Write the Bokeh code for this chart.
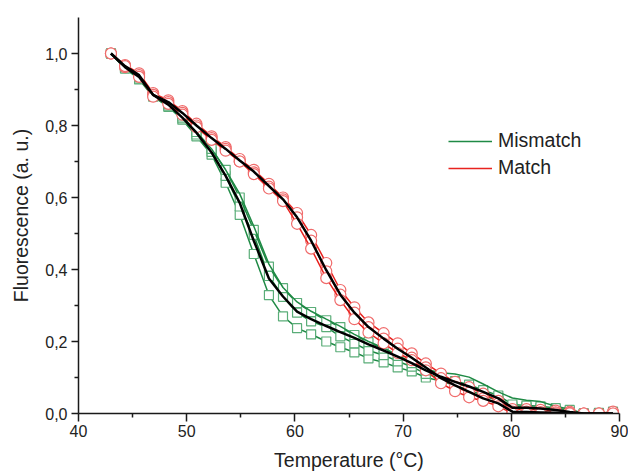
from bokeh.plotting import figure
from bokeh.models import FixedTicker, CustomJSTickFormatter, Legend, LegendItem, Range1d
from bokeh.embed import file_html
from bokeh.resources import INLINE

temperature = [43.0, 44.3, 45.6, 46.9, 48.3, 49.6, 50.9, 52.3, 53.6, 54.9, 56.2, 57.6,
               58.9, 60.2, 61.5, 62.9, 64.2, 65.5, 66.8, 68.2, 69.5, 70.8, 72.1, 73.5,
               74.8, 76.1, 77.4, 78.8, 80.1, 81.4, 82.7, 84.1, 85.4, 86.7, 88.1, 89.4]

match_rep1 = [1.0, 0.968, 0.945, 0.890, 0.870, 0.840, 0.805, 0.770, 0.740, 0.707, 0.677, 0.638,
              0.600, 0.557, 0.496, 0.418, 0.343, 0.295, 0.253, 0.223, 0.195, 0.167, 0.139, 0.111,
              0.088, 0.073, 0.055, 0.035, 0.012, 0.012, 0.010, 0.008, 0.005, 0.0, 0.0, 0.005]
match_rep2 = [1.0, 0.962, 0.940, 0.885, 0.865, 0.835, 0.800, 0.765, 0.735, 0.700, 0.670, 0.630,
              0.595, 0.545, 0.480, 0.395, 0.330, 0.280, 0.240, 0.208, 0.180, 0.155, 0.128, 0.098,
              0.075, 0.058, 0.042, 0.028, 0.005, 0.005, 0.004, 0.003, 0.002, 0.0, 0.0, 0.0]
match_rep3 = [1.0, 0.965, 0.935, 0.880, 0.860, 0.830, 0.795, 0.760, 0.730, 0.700, 0.665, 0.625,
              0.590, 0.527, 0.458, 0.376, 0.315, 0.262, 0.225, 0.195, 0.168, 0.148, 0.120, 0.084,
              0.062, 0.045, 0.035, 0.020, 0.0, 0.0, 0.0, 0.0, 0.0, 0.0, 0.0, 0.0]

mismatch_rep1 = [1.0, 0.960, 0.928, 0.880, 0.852, 0.816, 0.770, 0.719, 0.641, 0.552, 0.443, 0.329,
                 0.270, 0.237, 0.220, 0.200, 0.184, 0.170, 0.153, 0.142, 0.128, 0.117, 0.100, 0.090,
                 0.078, 0.065, 0.050, 0.035, 0.015, 0.015, 0.012, 0.008, 0.004, 0.0, 0.0, 0.0]
mismatch_rep2 = [1.0, 0.958, 0.930, 0.882, 0.855, 0.820, 0.775, 0.727, 0.660, 0.575, 0.496, 0.382,
                 0.324, 0.280, 0.256, 0.240, 0.214, 0.195, 0.175, 0.162, 0.145, 0.130, 0.110, 0.098,
                 0.085, 0.072, 0.058, 0.042, 0.020, 0.018, 0.016, 0.012, 0.006, 0.0, 0.002, 0.0]
mismatch_rep3 = [1.0, 0.962, 0.935, 0.885, 0.860, 0.825, 0.782, 0.735, 0.677, 0.600, 0.510, 0.408,
                 0.348, 0.307, 0.282, 0.259, 0.240, 0.218, 0.198, 0.180, 0.160, 0.140, 0.120, 0.105,
                 0.090, 0.080, 0.065, 0.050, 0.025, 0.022, 0.020, 0.015, 0.010, 0.0, 0.0, 0.005]
mismatch_rep4 = [1.0, 0.962, 0.935, 0.885, 0.860, 0.825, 0.782, 0.735, 0.677, 0.610, 0.520, 0.415,
                 0.350, 0.310, 0.284, 0.262, 0.242, 0.220, 0.200, 0.182, 0.162, 0.142, 0.122, 0.113,
                 0.110, 0.101, 0.082, 0.060, 0.043, 0.037, 0.033, 0.020, 0.012, 0.0, 0.0, 0.0]

match_mean = [1.0, 0.965, 0.940, 0.885, 0.865, 0.835, 0.800, 0.765, 0.735, 0.703, 0.672, 0.632,
              0.595, 0.545, 0.480, 0.398, 0.330, 0.280, 0.240, 0.208, 0.180, 0.155, 0.128, 0.098,
              0.078, 0.060, 0.042, 0.028, 0.005, 0.004, 0.003, 0.002, 0.001, 0.0, 0.0, 0.0]
mismatch_mean = [1.0, 0.962, 0.935, 0.885, 0.858, 0.822, 0.780, 0.725, 0.660, 0.585, 0.480, 0.375,
                 0.325, 0.283, 0.262, 0.243, 0.226, 0.210, 0.192, 0.175, 0.158, 0.140, 0.120, 0.102,
                 0.088, 0.075, 0.060, 0.042, 0.016, 0.016, 0.014, 0.010, 0.004, 0.0, 0.0, 0.0]

x_major = [40, 50, 60, 70, 80, 90]
x_minor = [45, 55, 65, 75, 85]
y_major = [0.0, 0.2, 0.4, 0.6, 0.8, 1.0]
y_minor = [0.1, 0.3, 0.5, 0.7, 0.9]

FONT = "Liberation Sans"
GREEN = "#1f8a45"
GREEN_MK = "#5aad78"
RED = "#e8231f"
RED_MK = "#f06b6b"

p = figure(width=628, height=476, output_backend="svg", toolbar_location=None,
           x_range=Range1d(40, 90), y_range=Range1d(0, 1.1),
           min_border_left=78, min_border_right=9, min_border_top=17, min_border_bottom=63)
p.outline_line_color = None
p.grid.visible = False
p.background_fill_color = "white"

green_lines = []
for rep in [mismatch_rep1, mismatch_rep2, mismatch_rep3]:
    g = p.line(temperature, rep, line_color=GREEN, line_width=1.5)
    green_lines.append(g)
    p.scatter(temperature, rep, marker="square", size=9, fill_color="white",
              line_color=GREEN_MK, line_width=1.2)
g4 = p.line(temperature, mismatch_rep4, line_color=GREEN, line_width=1.5)

red_lines = []
for rep in [match_rep1, match_rep2, match_rep3]:
    r = p.line(temperature, rep, line_color=RED, line_width=1.5)
    red_lines.append(r)
    p.scatter(temperature, rep, marker="circle", size=11, fill_color="white",
              line_color=RED_MK, line_width=1.2)

p.line(temperature, mismatch_mean, line_color="black", line_width=2.5)
p.line(temperature, match_mean, line_color="black", line_width=2.5)

fmt = CustomJSTickFormatter(code="return tick.toFixed(1).replace('.', ',');")
fmt_x = CustomJSTickFormatter(code="return tick.toFixed(0);")

for ax, major, minor, f in [(p.xaxis[0], x_major, x_minor, fmt_x), (p.yaxis[0], y_major, y_minor, fmt)]:
    ax.ticker = FixedTicker(ticks=major, minor_ticks=minor)
    ax.formatter = f
    ax.axis_line_color = "#1a1a1a"
    ax.axis_line_width = 1.5
    ax.major_tick_line_color = "#1a1a1a"
    ax.major_tick_line_width = 1.5
    ax.minor_tick_line_color = "#1a1a1a"
    ax.minor_tick_line_width = 1.5
    ax.major_tick_in = 0
    ax.minor_tick_in = 0
    ax.major_label_text_font = FONT
    ax.major_label_text_font_size = "16px"
    ax.major_label_text_color = "#222222"
    ax.axis_label_text_font = FONT
    ax.axis_label_text_font_size = "19.5px"
    ax.axis_label_text_font_style = "normal"
    ax.axis_label_text_color = "#222222"

p.xaxis.axis_label = "Temperature (°C)"
p.yaxis.axis_label = "Fluorescence (a. u.)"
p.xaxis.major_tick_out = 8
p.xaxis.minor_tick_out = 4
p.xaxis.major_label_standoff = 3
p.xaxis.axis_label_standoff = 9
p.yaxis.major_tick_out = 7
p.yaxis.minor_tick_out = 4
p.yaxis.major_label_standoff = 4
p.yaxis.axis_label_standoff = 10

legend = Legend(items=[LegendItem(label="Mismatch", renderers=[g4]),
                       LegendItem(label="Match", renderers=[red_lines[0]])],
                location=(370, 234))
legend.border_line_color = None
legend.background_fill_alpha = 0
legend.label_text_font = FONT
legend.label_text_font_size = "19.5px"
legend.label_text_color = "#222222"
legend.glyph_width = 44
legend.glyph_height = 20
legend.label_height = 20
legend.label_standoff = 6
legend.spacing = 4
legend.padding = 0
legend.margin = 0
p.add_layout(legend, "center")

open("out.html", "w").write(file_html(p, INLINE))
